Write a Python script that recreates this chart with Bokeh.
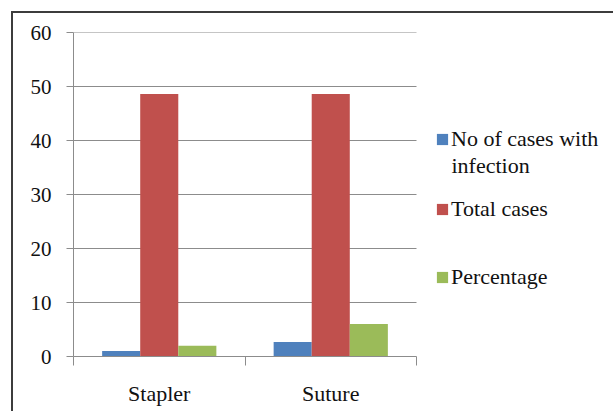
from bokeh.plotting import figure
from bokeh.models import (Range1d, LinearAxis, FixedTicker, Legend, LegendItem,
                          ColumnDataSource, Label)
from bokeh.embed import file_html
from bokeh.resources import INLINE

# Wound infection: stapler vs suture closure
categories = ["Stapler", "Suture"]
infected = [1, 2.7]
total_cases = [48.6, 48.6]
percentage = [2, 6]

series_labels = ["No of cases with\ninfection", "Total cases", "Percentage"]
series_colors = ["#4F81BD", "#C0504D", "#9BBB59"]
y_ticks = [0, 10, 20, 30, 40, 50, 60]

FONT = "'Liberation Serif'"
LEGEND_FONT = "serif"
GRID = "#8c8c8c"
INK = "#111111"

n = len(categories)
centers = [i + 0.5 for i in range(n)]
edges = list(range(n + 1))
bw = 0.222

# the frame runs on under the legend; the bar area is the first PLOT_W pixels
PLOT_W, FRAME_W, FRAME_H = 343, 540, 324
x_end = n * FRAME_W / PLOT_W

p = figure(
    x_range=Range1d(0, x_end), y_range=Range1d(0, 60),
    output_backend="svg", toolbar_location=None,
    x_axis_location=None, y_axis_location=None,
    min_border_left=60, min_border_top=19, min_border_right=0, min_border_bottom=57,
    frame_width=FRAME_W, frame_height=FRAME_H,
)
p.styles = {"margin-left": "11px", "margin-top": "11px",
            "border-left": "2px solid #3c3c3c", "border-top": "2px solid #3c3c3c"}
p.outline_line_color = None
p.background_fill_color = "white"
p.border_fill_color = "white"
p.xgrid.visible = False
p.ygrid.visible = False

# horizontal gridlines over the bar area only
p.segment(x0=[0] * len(y_ticks[1:]), x1=[n] * len(y_ticks[1:]),
          y0=y_ticks[1:], y1=y_ticks[1:], line_color=GRID, line_width=1)

series = [infected, total_cases, percentage]
offsets = [-bw, 0, bw]
renderers = []
for vals, off, col in zip(series, offsets, series_colors):
    src = ColumnDataSource(data=dict(x=[c + off for c in centers], top=vals))
    r = p.vbar(x="x", top="top", width=bw, source=src,
               fill_color=col, line_color=None)
    renderers.append(r)

# y axis
yax = LinearAxis(ticker=FixedTicker(ticks=y_ticks))
yax.axis_line_color = GRID
yax.major_tick_line_color = GRID
yax.major_tick_out = 7
yax.major_tick_in = 0
yax.minor_tick_line_color = None
yax.major_label_standoff = 15
yax.major_label_text_font = FONT
yax.major_label_text_font_size = "21px"
yax.major_label_text_color = INK
p.add_layout(yax, "left")

# category boundary ticks
eax = LinearAxis(ticker=FixedTicker(ticks=edges), bounds=(0, n))
eax.axis_line_color = GRID
eax.major_tick_line_color = GRID
eax.major_tick_out = 9
eax.major_tick_in = 0
eax.minor_tick_line_color = None
eax.major_label_overrides = {e: "" for e in edges}
eax.major_label_text_font_size = "0px"
eax.major_label_standoff = 0
p.add_layout(eax, "below")

# category labels at group centres
cax = LinearAxis(ticker=FixedTicker(ticks=centers))
cax.major_label_overrides = {c: lab for c, lab in zip(centers, categories)}
cax.axis_line_color = None
cax.major_tick_line_color = None
cax.minor_tick_line_color = None
cax.major_label_standoff = 9
cax.major_label_text_font = FONT
cax.major_label_text_font_size = "22px"
cax.major_label_text_color = INK
p.add_layout(cax, "below")

# one legend entry per series, stacked beside the bars; a wrapped label keeps
# its square beside the first line and continues underneath
legend_pos = [(362, 204), (362, 134), (362, 66)]
for lab, r, (lx, ly) in zip(series_labels, renderers, legend_pos):
    first, *rest = lab.split("\n")
    lg = Legend(items=[LegendItem(label=first, renderers=[r])], location=(lx, ly))
    lg.border_line_color = None
    lg.background_fill_alpha = 0
    lg.padding = 0
    lg.margin = 0
    lg.glyph_width = 14
    lg.glyph_height = 14
    lg.label_standoff = 2
    lg.label_text_font = LEGEND_FONT
    lg.label_text_font_size = "22px"
    lg.label_text_color = INK
    p.add_layout(lg, "center")
    for k, line in enumerate(rest, start=1):
        p.add_layout(Label(x=lx + 16, y=ly - 27 * k + 14, x_units="screen",
                           y_units="screen", text=line, text_font=LEGEND_FONT,
                           text_font_size="22px", text_color=INK,
                           text_baseline="alphabetic"))

open("out.html", "w").write(file_html(p, INLINE))
